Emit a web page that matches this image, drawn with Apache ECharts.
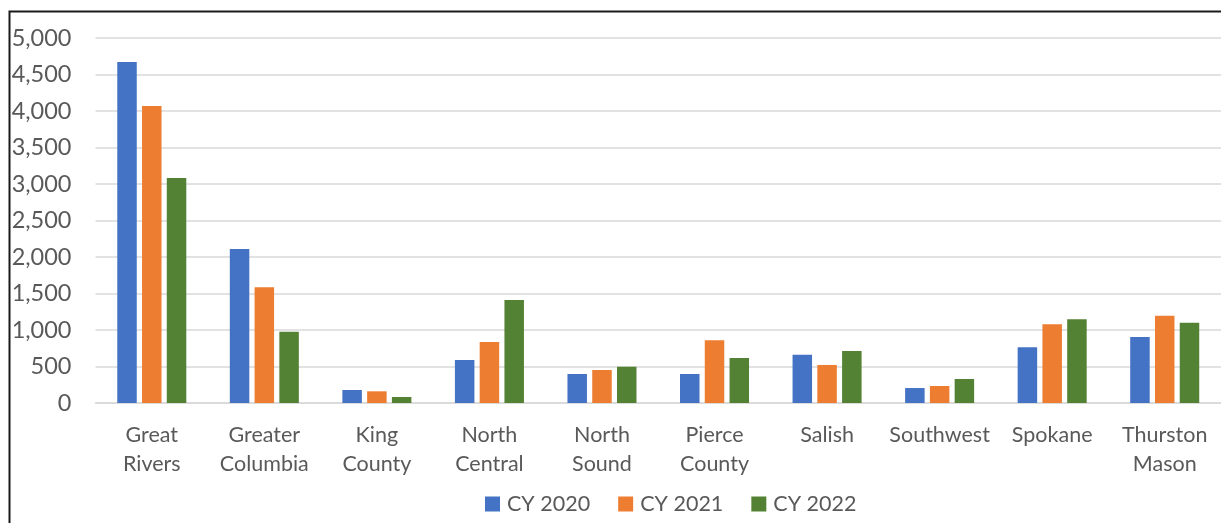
<!DOCTYPE html>
<html>
<head>
<meta charset="utf-8">
<script src="https://cdn.jsdelivr.net/npm/echarts@6/dist/echarts.min.js"></script>
<style>
html,body{margin:0;padding:0;background:#fff;}
#chart{width:1221px;height:523px;}
</style>
</head>
<body>
<div id="chart"></div>
<script>
const categories = ['Great\nRivers','Greater\nColumbia','King\nCounty','North\nCentral','North\nSound','Pierce\nCounty','Salish','Southwest','Spokane','Thurston\nMason'];
const seriesNames = ['CY 2020','CY 2021','CY 2022'];
const cy2020 = [4670, 2110, 178, 589, 397, 397, 662, 205, 763, 904];
const cy2021 = [4068, 1585, 160, 836, 452, 859, 521, 233, 1078, 1196];
const cy2022 = [3082, 977, 82, 1411, 497, 616, 712, 329, 1147, 1100];
const yTicks = {min: 0, max: 5000, interval: 500};

const colors = ['#4472C4','#ED7D31','#548235'];
const fontFam = 'Lato, "Noto Sans", sans-serif';
const chart = echarts.init(document.getElementById('chart'), null, {renderer:'canvas'});
const values = [cy2020, cy2021, cy2022];
chart.setOption({
  animation: false,
  backgroundColor: '#fff',
  color: colors,
  grid: {left: 95.5, right: -4.5, top: 38, bottom: 120, containLabel: false},
  legend: {
    data: seriesNames,
    left: 485, top: 493, padding: 0,
    icon: 'rect', itemWidth: 15, itemHeight: 15, itemGap: 28,
    textStyle: {color: '#595959', fontSize: 21.5, fontFamily: fontFam, padding: [0,0,0,2]}
  },
  xAxis: {
    type: 'category', data: categories,
    axisLine: {show: true, lineStyle: {color: '#d9d9d9', width: 1.5}},
    axisTick: {show: false},
    axisLabel: {color: '#595959', fontSize: 21.5, fontFamily: fontFam, lineHeight: 29, margin: 18, interval: 0}
  },
  yAxis: {
    type: 'value', min: yTicks.min, max: yTicks.max, interval: yTicks.interval,
    axisLine: {show: false}, axisTick: {show: false},
    splitLine: {lineStyle: {color: '#d9d9d9', width: 1.5}},
    axisLabel: {color: '#595959', fontSize: 23.5, fontFamily: fontFam, margin: 24,
      formatter: v => v.toLocaleString('en-US')}
  },
  graphic: [{
    type: 'rect', silent: true, z: 100,
    shape: {x: 9.5, y: 11.5, width: 1400, height: 700},
    style: {fill: 'none', stroke: '#1a1a1a', lineWidth: 2}
  }],
  series: seriesNames.map((n, i) => ({
    name: n, type: 'bar', data: values[i],
    barWidth: 19.5, barGap: '27%',
    itemStyle: {color: colors[i]}
  }))
});
</script>
</body>
</html>
